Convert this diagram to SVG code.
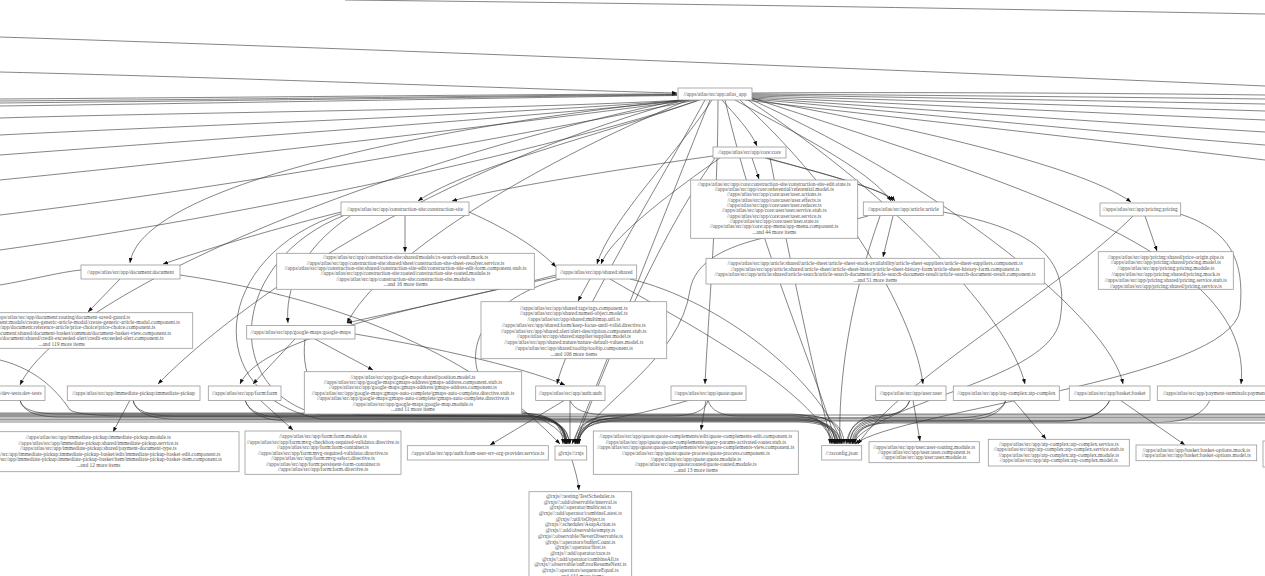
<svg xmlns="http://www.w3.org/2000/svg" width="1265" height="576" viewBox="0 0 1265 576">
<style>
.n rect{fill:#fff;stroke:#999;stroke-width:0.8}
.n text{font-family:"Liberation Serif",serif;font-size:5.4px;fill:#555;text-anchor:middle}
.e path{fill:none;stroke:#333;stroke-width:0.6}
.e path.a{marker-end:url(#ah)}
</style>
<defs>
<marker id="ah" markerWidth="5" markerHeight="4" refX="5" refY="2" orient="auto" markerUnits="userSpaceOnUse"><path d="M0,0 L5,2 L0,4 z" fill="#111"/></marker>
</defs>
<rect width="1265" height="576" fill="#fff"/>
<g id="connectors" class="e">
<!-- top background lines -->
<path d="M345,0 C700,4 1000,9 1265,14"/>
<path d="M0,37 C400,50 900,70 1265,86"/>
<!-- into atlas_app from left -->
<path class="a" d="M0,72 C250,78 550,90 677,93"/>
<path class="a" d="M0,99 C300,97 550,94 677,94"/>
<path d="M0,101 C300,99 550,95 677,94.5"/>
<path d="M0,103 C300,100 550,96 677,95"/>
<path d="M0,106 C300,102 550,97 677,95.5"/>
<!-- from atlas_app right -->
<path d="M752,93 C900,92 1100,93 1265,95"/>
<path d="M752,94 C900,95 1100,97 1265,99"/>
<path d="M752,95 C900,97 1100,101 1265,104"/>
<path d="M752,96 C900,100 1100,106 1265,111"/>
<path d="M752,97 C900,104 1100,113 1265,120"/>
<path d="M752,98 C900,108 1100,122 1265,132"/>
<path d="M752,99 C900,112 1100,132 1265,145"/>
<path d="M745,100 C900,118 1100,140 1265,160"/>
<!-- from atlas_app bottom-left going off left -->
<path d="M685,100 C500,110 200,112 0,118"/>
<path d="M688,100 C500,115 200,125 0,135"/>
<path d="M690,100 C500,120 200,140 0,155"/>
<path d="M693,100 C500,125 250,155 0,180"/>
<path d="M696,100 C520,135 250,185 0,215"/>
<path d="M700,100 C550,150 250,215 0,250"/>
<!-- atlas_app to children -->
<path class="a" d="M722,100 C735,115 750,130 757,146"/>
<path class="a" d="M698,100 C620,130 470,165 418,201"/>
<path class="a" d="M735,100 C790,130 870,170 891,201"/>
<path class="a" d="M752,99 C900,125 1080,165 1131,202"/>
<path class="a" d="M682,100 C400,130 140,190 130,263"/>
<path class="a" d="M712,100 C680,150 610,220 597,264"/>
<path class="a" d="M688,100 C520,170 380,260 347,323"/>
<path class="a" d="M684,100 C400,180 220,320 158,384"/>
<path class="a" d="M680,100 C350,170 60,300 20,385"/>
<path class="a" d="M705,100 C650,200 570,330 557,384"/>
<path class="a" d="M718,100 C718,200 708,320 705,384"/>
<path class="a" d="M740,100 C850,200 915,320 923,384"/>
<path class="a" d="M748,100 C900,200 1010,320 1025,384"/>
<path class="a" d="M752,100 C950,190 1110,320 1123,384"/>
<path class="a" d="M752,98 C1000,180 1255,250 1241,384"/>
<path class="a" d="M725,100 C760,250 820,380 836,444"/>
<path class="a" d="M710,100 C650,250 600,380 572,444"/>
<!-- core -->
<path class="a" d="M752,158 L759,179"/>
<path class="a" d="M713,156 C600,172 490,190 452,201"/>
<path class="a" d="M765,158 C830,175 885,190 893,201"/>
<path class="a" d="M767,158 C832,176 887,191 895,201"/>
<path class="a" d="M720,158 C660,200 610,240 601,264"/>
<path class="a" d="M770,158 C790,260 815,380 832,444"/>
<path class="a" d="M715,158 C650,250 600,380 575,444"/>
<!-- construction-site -->
<path class="a" d="M405,216 L405,252"/>
<path class="a" d="M469,212 C510,230 540,250 556,267"/>
<path class="a" d="M341,212 C250,235 190,255 163,264"/>
<path class="a" d="M350,216 C300,250 285,290 288,323"/>
<path class="a" d="M345,215 C230,260 220,390 320,415 L530,417 Q566,417 566,444"/>
<path class="a" d="M343,213 C210,255 200,395 320,419 L800,419 Q838,419 838,444"/>
<!-- article -->
<path class="a" d="M893,216 L883,257"/>
<path class="a" d="M868,216 C800,235 700,235 690,290 C680,360 600,400 575,444"/>
<path class="a" d="M943,212 C1040,230 1070,260 1060,320 C1050,380 880,400 852,444"/>
<path class="a" d="M880,216 C850,300 838,380 840,444"/>
<!-- pricing -->
<path class="a" d="M1145,216 L1157,251"/>
<path class="a" d="M1133,216 C1060,290 900,380 858,444"/>
<path class="a" d="M1180,214 C1230,230 1245,260 1240,310 C1230,380 900,410 855,444"/>
<!-- document -->
<path class="a" d="M120,279 L88,312"/>
<path d="M0,285 C30,280 60,272 81,270"/>
<path class="a" d="M180,275 C350,300 480,360 560,444"/>
<!-- shared -->
<path class="a" d="M590,279 L578,301"/>
<path class="a" d="M556,275 C480,295 380,315 347,323"/>
<path class="a" d="M556,277 C400,310 260,340 240,384"/>
<path class="a" d="M610,279 C680,320 800,380 835,444"/>
<path class="a" d="M630,279 C720,300 820,380 842,444"/>
<path class="a" d="M560,279 C480,300 450,360 500,405 Q560,420 567,444"/>
<!-- google-maps -->
<path class="a" d="M315,339 L373,370"/>
<path class="a" d="M295,339 L253,384"/>
<path class="a" d="M355,334 C450,350 530,370 565,385"/>
<path class="a" d="M305,339 C300,380 320,412 360,415 L530,416 Q566,416 566,444"/>
<!-- bottom row to their lists -->
<path class="a" d="M130,400 L113,432"/>
<path class="a" d="M260,400 L293,430"/>
<path class="a" d="M565,400 L490,445"/>
<path class="a" d="M570,400 L570,444"/>
<path class="a" d="M706,400 L701,430"/>
<path class="a" d="M913,400 L920,441"/>
<path class="a" d="M1013,400 L1046,439"/>
<path class="a" d="M1120,400 L1185,445"/>
<path class="a" d="M572,460 C575,470 578,480 579,490"/>
<!-- band into rxjs -->
<path class="a" d="M0,413 L520,413 Q563,413 563,444"/>
<path class="a" d="M0,415 L520,415 Q565,415 565,444"/>
<path class="a" d="M0,417 L525,417 Q567,417 567,444"/>
<path class="a" d="M0,419 L528,419 Q569,419 569,444"/>
<path class="a" d="M20,400 Q22,414 60,414 L525,414 Q565,414 565,444"/>
<path class="a" d="M133,400 Q135,416 175,416 L527,416 Q567,416 567,444"/>
<path class="a" d="M245,400 Q250,418 290,418 L530,418 Q569,418 569,444"/>
<path class="a" d="M1265,415 L620,415 Q575,415 575,444"/>
<path class="a" d="M1265,418 L620,418 Q577,418 577,444"/>
<path class="a" d="M708,400 Q705,416 670,416 L615,416 Q577,416 577,444"/>
<path class="a" d="M910,400 Q905,418 860,418 L620,418 Q579,418 579,444"/>
<path class="a" d="M1006,400 Q1000,420 960,420 L620,420 Q579,420 579,444"/>
<path class="a" d="M1110,400 Q1100,421 1060,421 L620,421 Q578,421 578,444"/>
<path class="a" d="M690,400 Q640,415 600,420 Q578,425 577,444"/>
<path class="a" d="M0,360 C40,370 60,395 70,410 Q80,416 130,416 L528,416 Q566,416 566,444"/>
<!-- band into tsconfig -->
<path class="a" d="M0,414 L790,414 Q830,414 830,444"/>
<path class="a" d="M0,416 L792,416 Q833,416 833,444"/>
<path class="a" d="M0,420 L795,420 Q836,420 836,444"/>
<path class="a" d="M0,422 L797,422 Q838,422 838,444"/>
<path class="a" d="M20,400 Q24,417 60,417 L795,417 Q835,417 835,444"/>
<path class="a" d="M133,400 Q137,419 175,419 L797,419 Q837,419 837,444"/>
<path class="a" d="M245,400 Q252,421 290,421 L800,421 Q840,421 840,444"/>
<path class="a" d="M570,400 Q575,415 610,415 L800,415 Q842,415 842,444"/>
<path class="a" d="M708,400 Q712,416 740,416 L805,416 Q844,416 844,444"/>
<path class="a" d="M1265,414 L890,414 Q848,414 848,444"/>
<path class="a" d="M1265,417 L890,417 Q850,417 850,444"/>
<path class="a" d="M1265,420 L890,420 Q852,420 852,444"/>
<path class="a" d="M1265,423 L890,423 Q854,423 854,444"/>
<path class="a" d="M910,400 Q905,416 880,416 Q850,418 846,444"/>
<path class="a" d="M1006,400 Q1000,418 950,418 L895,418 Q850,418 850,444"/>
<path class="a" d="M1110,400 Q1100,421 1060,421 L895,421 Q853,421 853,444"/>
<path class="a" d="M1210,400 Q1200,422 1160,422 L895,422 Q855,422 855,444"/>
</g>
<g id="atlas_app" class="n"><rect x="678" y="88" width="74" height="12"/><text x="715" y="95.9">//apps/atlas/src/app:atlas_app</text></g>
<g id="core" class="n"><rect x="713" y="147" width="73" height="11"/><text x="749.5" y="154.4">//apps/atlas/src/app/core:core</text></g>
<g id="core_files" class="n"><rect x="690.7" y="180" width="167" height="58.3"/>
<text x="774.2" y="185.5">//apps/atlas/src/app/core:construction-site/construction-site-edit.state.ts</text>
<text x="774.2" y="190.8">//apps/atlas/src/app/core:referential/referential.model.ts</text>
<text x="774.2" y="196.2">//apps/atlas/src/app/core:user/user.actions.ts</text>
<text x="774.2" y="201.5">//apps/atlas/src/app/core:user/user.effects.ts</text>
<text x="774.2" y="206.8">//apps/atlas/src/app/core:user/user.reducer.ts</text>
<text x="774.2" y="212.2">//apps/atlas/src/app/core:user/user.service.stub.ts</text>
<text x="774.2" y="217.5">//apps/atlas/src/app/core:user/user.service.ts</text>
<text x="774.2" y="222.8">//apps/atlas/src/app/core:user/user.state.ts</text>
<text x="774.2" y="228.1">//apps/atlas/src/app/core:app-menu/app-menu.component.ts</text>
<text x="774.2" y="233.5">...and 44 more items</text></g>
<g id="construction_site" class="n"><rect x="341" y="202" width="128" height="13.5"/><text x="405" y="210.6">//apps/atlas/src/app/construction-site:construction-site</text></g>
<g id="construction_site_files" class="n"><rect x="276.7" y="253.3" width="257.6" height="36"/>
<text x="405.5" y="259.1">//apps/atlas/src/app/construction-site:shared/models/cs-search-result.mock.ts</text>
<text x="405.5" y="264.5">//apps/atlas/src/app/construction-site:shared/sheet/construction-site-sheet-resolver.service.ts</text>
<text x="405.5" y="269.9">//apps/atlas/src/app/construction-site:shared/construction-site-edit/construction-site-edit-form.component.stub.ts</text>
<text x="405.5" y="275.3">//apps/atlas/src/app/construction-site:routed/construction-site-routed.module.ts</text>
<text x="405.5" y="280.7">//apps/atlas/src/app/construction-site:construction-site.module.ts</text>
<text x="405.5" y="286.1">...and 16 more items</text></g>
<g id="article" class="n"><rect x="863.3" y="202" width="80" height="13.5"/><text x="903.3" y="210.6">//apps/atlas/src/app/article:article</text></g>
<g id="article_files" class="n"><rect x="706" y="258.3" width="338.3" height="25.7"/>
<text x="875.2" y="265.1">//apps/atlas/src/app/article:shared/article-sheet/article-sheet-stock-availability/article-sheet-suppliers/article-sheet-suppliers.component.ts</text>
<text x="875.2" y="270.6">//apps/atlas/src/app/article:shared/article-sheet/article-sheet-history/article-sheet-history-form/article-sheet-history-form.component.ts</text>
<text x="875.2" y="276">//apps/atlas/src/app/article:shared/article-search/article-search-document/article-search-document-result/article-search-document-result.component.ts</text>
<text x="875.2" y="281.5">...and 51 more items</text></g>
<g id="pricing" class="n"><rect x="1100" y="203" width="80.7" height="13"/><text x="1140.3" y="211.4">//apps/atlas/src/app/pricing:pricing</text></g>
<g id="pricing_files" class="n"><rect x="1098.3" y="251.7" width="135" height="37.6"/>
<text x="1165.8" y="258.5">//apps/atlas/src/app/pricing:shared/price-origin.pipe.ts</text>
<text x="1165.8" y="264.3">//apps/atlas/src/app/pricing:shared/pricing.model.ts</text>
<text x="1165.8" y="270.1">//apps/atlas/src/app/pricing:pricing.module.ts</text>
<text x="1165.8" y="275.9">//apps/atlas/src/app/pricing:shared/pricing.mock.ts</text>
<text x="1165.8" y="281.7">//apps/atlas/src/app/pricing:shared/pricing.service.stub.ts</text>
<text x="1165.8" y="287.5">//apps/atlas/src/app/pricing:shared/pricing.service.ts</text></g>
<g id="document" class="n"><rect x="81" y="265" width="99" height="14"/><text x="130.5" y="273.9">//apps/atlas/src/app/document:document</text></g>
<g id="document_files" class="n"><rect x="-69.3" y="312.7" width="262" height="35.6"/>
<text x="61.7" y="318.5">//apps/atlas/src/app/document:routing/document-saved-guard.ts</text>
<text x="61.7" y="323.9">//apps/atlas/src/app/document:modals/create-generic-article-modal/create-generic-article-modal.component.ts</text>
<text x="61.7" y="329.4">//apps/atlas/src/app/document:reference-article/price-choice/price-choice.component.ts</text>
<text x="61.7" y="334.8">//apps/atlas/src/app/document:shared/document-basket/common/document-basket-view.component.ts</text>
<text x="61.7" y="340.3">//apps/atlas/src/app/document:shared/credit-exceeded-alert/credit-exceeded-alert.component.ts</text>
<text x="61.7" y="345.7">...and 119 more items</text></g>
<g id="shared" class="n"><rect x="556" y="265" width="80.7" height="14"/><text x="596.3" y="273.9">//apps/atlas/src/app/shared:shared</text></g>
<g id="shared_files" class="n"><rect x="481" y="301.7" width="185.7" height="57"/>
<text x="573.8" y="309.5">//apps/atlas/src/app/shared:tags/tags.component.ts</text>
<text x="573.8" y="315.3">//apps/atlas/src/app/shared:named-object.model.ts</text>
<text x="573.8" y="321">//apps/atlas/src/app/shared:multimap.util.ts</text>
<text x="573.8" y="326.8">//apps/atlas/src/app/shared:form/keep-focus-until-valid.directive.ts</text>
<text x="573.8" y="332.5">//apps/atlas/src/app/shared:alert/alert-description.component.stub.ts</text>
<text x="573.8" y="338.3">//apps/atlas/src/app/shared:supplier/supplier.model.ts</text>
<text x="573.8" y="344">//apps/atlas/src/app/shared:nature/nature-default-values.model.ts</text>
<text x="573.8" y="349.8">//apps/atlas/src/app/shared:tooltip/tooltip.component.ts</text>
<text x="573.8" y="355.5">...and 106 more items</text></g>
<g id="google_maps" class="n"><rect x="246.7" y="325.5" width="108.3" height="13.5"/><text x="300.8" y="334.1">//apps/atlas/src/app/google-maps:google-maps</text></g>
<g id="google_maps_files" class="n"><rect x="304.3" y="371.7" width="217.4" height="42.3"/>
<text x="413" y="378.5">//apps/atlas/src/app/google-maps:shared/position.model.ts</text>
<text x="413" y="383.9">//apps/atlas/src/app/google-maps:gmaps-address/gmaps-address.component.stub.ts</text>
<text x="413" y="389.4">//apps/atlas/src/app/google-maps:gmaps-address/gmaps-address.component.ts</text>
<text x="413" y="394.8">//apps/atlas/src/app/google-maps:gmaps-auto-complete/gmaps-auto-complete.directive.stub.ts</text>
<text x="413" y="400.2">//apps/atlas/src/app/google-maps:gmaps-auto-complete/gmaps-auto-complete.directive.ts</text>
<text x="413" y="405.7">//apps/atlas/src/app/google-maps:google-map.module.ts</text>
<text x="413" y="411.1">...and 11 more items</text></g>
<g id="dev_tests" class="n"><rect x="-50" y="386" width="95" height="14.5"/><text x="41.7" y="395.1" style="text-anchor:end">//apps/atlas/src/app/dev-tests:dev-tests</text></g>
<g id="immediate_pickup" class="n"><rect x="67.3" y="386" width="132.7" height="14.5"/><text x="133.7" y="395.1">//apps/atlas/src/app/immediate-pickup:immediate-pickup</text></g>
<g id="form" class="n"><rect x="208.3" y="386" width="72.7" height="14.5"/><text x="244.7" y="395.1">//apps/atlas/src/app/form:form</text></g>
<g id="auth" class="n"><rect x="535.7" y="386" width="69.3" height="14.5"/><text x="570.3" y="395.1">//apps/atlas/src/app/auth:auth</text></g>
<g id="quote" class="n"><rect x="671" y="386" width="75" height="14.5"/><text x="708.5" y="395.1">//apps/atlas/src/app/quote:quote</text></g>
<g id="user" class="n"><rect x="875.7" y="386" width="70.3" height="14.5"/><text x="910.8" y="395.1">//apps/atlas/src/app/user:user</text></g>
<g id="atp_complex" class="n"><rect x="953.3" y="386" width="106" height="14.5"/><text x="1006.3" y="395.1">//apps/atlas/src/app/atp-complex:atp-complex</text></g>
<g id="basket" class="n"><rect x="1069.3" y="386" width="80.7" height="14.5"/><text x="1109.7" y="395.1">//apps/atlas/src/app/basket:basket</text></g>
<g id="payment_terminals" class="n"><rect x="1157.3" y="386" width="135" height="14.5"/><text x="1163" y="395.1" style="text-anchor:start">//apps/atlas/src/app/payment-terminals:payment-terminals</text></g>
<g id="payment_terminals_files" class="n"><rect x="1263" y="441" width="150" height="26"/></g>
<g id="immediate_pickup_files" class="n"><rect x="-42.4" y="431.7" width="281.4" height="40"/>
<text x="98.3" y="439.1">//apps/atlas/src/app/immediate-pickup:immediate-pickup.module.ts</text>
<text x="98.3" y="444.6">//apps/atlas/src/app/immediate-pickup:shared/immediate-pickup.service.ts</text>
<text x="98.3" y="450.2">//apps/atlas/src/app/immediate-pickup:shared/payment-document-type.ts</text>
<text x="98.3" y="455.7">//apps/atlas/src/app/immediate-pickup:immediate-pickup-basket/edit/immediate-pickup-basket-edit.component.ts</text>
<text x="98.3" y="461.2">//apps/atlas/src/app/immediate-pickup:immediate-pickup-basket/item/immediate-pickup-basket-item.component.ts</text>
<text x="98.3" y="466.8">...and 12 more items</text></g>
<g id="form_files" class="n"><rect x="245" y="431" width="156" height="43.3"/>
<text x="323" y="438.3">//apps/atlas/src/app/form:form.module.ts</text>
<text x="323" y="443.8">//apps/atlas/src/app/form:mvg-checkbox-required-validator.directive.ts</text>
<text x="323" y="449.3">//apps/atlas/src/app/form:form-container.ts</text>
<text x="323" y="454.8">//apps/atlas/src/app/form:mvg-required-validator.directive.ts</text>
<text x="323" y="460.3">//apps/atlas/src/app/form:mvg-select.directive.ts</text>
<text x="323" y="465.8">//apps/atlas/src/app/form:persistent-form-container.ts</text>
<text x="323" y="471.3">//apps/atlas/src/app/form:form.directive.ts</text></g>
<g id="auth_files" class="n"><rect x="407.3" y="445.7" width="141" height="14.3"/><text x="477.8" y="454.7">//apps/atlas/src/app/auth:from-user-srv-org-provider.service.ts</text></g>
<g id="rxjs" class="n"><rect x="555" y="446" width="31.7" height="14"/><text x="570.9" y="454.9">@rxjs//:rxjs</text></g>
<g id="quote_files" class="n"><rect x="593.3" y="431" width="205" height="43.3"/>
<text x="695.8" y="437.8">//apps/atlas/src/app/quote:quote-complements/edit/quote-complements-edit.component.ts</text>
<text x="695.8" y="443.5">//apps/atlas/src/app/quote:quote-complements/query-params-activated-router.stub.ts</text>
<text x="695.8" y="449.1">//apps/atlas/src/app/quote:quote-complements/view/quote-complements-view.component.ts</text>
<text x="695.8" y="454.8">//apps/atlas/src/app/quote:quote-process/quote-process.component.ts</text>
<text x="695.8" y="460.5">//apps/atlas/src/app/quote:quote.module.ts</text>
<text x="695.8" y="466.2">//apps/atlas/src/app/quote:routed/quote-routed.module.ts</text>
<text x="695.8" y="471.8">...and 13 more items</text></g>
<g id="tsconfig" class="n"><rect x="821.7" y="445.7" width="40" height="14.3"/><text x="841.7" y="454.7">//:tsconfig.json</text></g>
<g id="user_files" class="n"><rect x="869" y="441.7" width="110.3" height="21"/>
<text x="924.2" y="448.5">//apps/atlas/src/app/user:user-routing.module.ts</text>
<text x="924.2" y="453.9">//apps/atlas/src/app/user:user.component.ts</text>
<text x="924.2" y="459.3">//apps/atlas/src/app/user:user.module.ts</text></g>
<g id="atp_complex_files" class="n"><rect x="988.3" y="439.3" width="141" height="26.7"/>
<text x="1058.8" y="445.8">//apps/atlas/src/app/atp-complex:atp-complex.service.ts</text>
<text x="1058.8" y="451.3">//apps/atlas/src/app/atp-complex:atp-complex.service.stub.ts</text>
<text x="1058.8" y="456.8">//apps/atlas/src/app/atp-complex:atp-complex.module.ts</text>
<text x="1058.8" y="462.3">//apps/atlas/src/app/atp-complex:atp-complex.model.ts</text></g>
<g id="basket_files" class="n"><rect x="1136" y="445" width="120.7" height="15.7"/>
<text x="1196.3" y="451.8">//apps/atlas/src/app/basket:basket-options.mock.ts</text>
<text x="1196.3" y="457.3">//apps/atlas/src/app/basket:basket-options.model.ts</text></g>
<g id="rxjs_files" class="n"><rect x="529" y="491.7" width="102.7" height="100"/>
<text x="580.3" y="497.8">@rxjs//:testing/TestScheduler.ts</text>
<text x="580.3" y="503.5">@rxjs//:add/observable/interval.ts</text>
<text x="580.3" y="509.2">@rxjs//:operator/multicast.ts</text>
<text x="580.3" y="514.9">@rxjs//:add/operator/combineLatest.ts</text>
<text x="580.3" y="520.6">@rxjs//:util/isObject.ts</text>
<text x="580.3" y="526.4">@rxjs//:scheduler/AsapAction.ts</text>
<text x="580.3" y="532.1">@rxjs//:add/observable/empty.ts</text>
<text x="580.3" y="537.8">@rxjs//:observable/NeverObservable.ts</text>
<text x="580.3" y="543.5">@rxjs//:operators/bufferCount.ts</text>
<text x="580.3" y="549.2">@rxjs//:operator/first.ts</text>
<text x="580.3" y="554.9">@rxjs//:add/operator/race.ts</text>
<text x="580.3" y="560.6">@rxjs//:add/operator/combineAll.ts</text>
<text x="580.3" y="566.3">@rxjs//:observable/onErrorResumeNext.ts</text>
<text x="580.3" y="572">@rxjs//:operators/sequenceEqual.ts</text>
<text x="580.3" y="577.7">...and 444 more items</text></g>
</svg>
